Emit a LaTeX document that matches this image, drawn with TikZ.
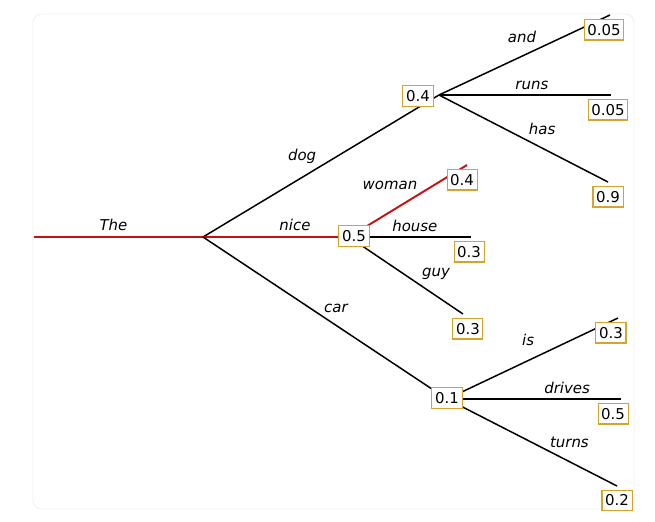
\documentclass[tikz,border=0pt]{standalone}
\usepackage{fontspec}
\setmainfont{DejaVu Sans}
\usetikzlibrary{positioning}

\definecolor{boxgold}{RGB}{214,164,44}
\definecolor{pathred}{RGB}{196,18,18}

\tikzset{
  prob/.style={draw=boxgold, line width=0.6pt, fill=white, text=black, inner xsep=1.8pt, inner ysep=2.6pt, font=\fontsize{8.5}{10}\selectfont},
  word/.style={font=\fontsize{8.5}{10}\selectfont\itshape, text=black, inner sep=2.8pt},
  lbl/.style={word, above},
  lbls/.style={word, above=4.5pt},
  branch/.style={line width=0.85pt, black},
  best/.style={line width=1.1pt, pathred}
}

\begin{document}
\begin{tikzpicture}[x=0.02cm, y=-0.02cm]
\useasboundingbox (0,0) rectangle (655,521);
\draw[gray!12, line width=0.5pt, rounded corners=5] (33,14) rectangle (634,509);

% branch points and word ends
\coordinate (start) at (34,237);
\coordinate (A) at (203,237);
\coordinate (B) at (439,95);
\coordinate (C) at (349,237);
\coordinate (D) at (447,399);
\coordinate (and) at (610,15);
\coordinate (runs) at (611,95);
\coordinate (has) at (608,182);
\coordinate (woman) at (467,165);
\coordinate (house) at (471,237);
\coordinate (guy) at (463,314);
\coordinate (is) at (618,318);
\coordinate (drives) at (621,399);
\coordinate (turns) at (617,486);

% edges
\draw[best] (start) -- node[lbl, pos=0.47] {The} (A);
\draw[branch] (A) -- node[lbls, pos=0.42] {dog} (B);
\draw[best] (A) -- node[lbl, pos=0.63] {nice} (C);
\draw[branch] (A) -- node[lbls, pos=0.545, above=4pt] {car} (D);
\draw[branch] (B) -- node[lbls, pos=0.485] {and} (and);
\draw[branch] (B) -- node[lbl, pos=0.54] {runs} (runs);
\draw[branch] (B) -- node[lbls, pos=0.61] {has} (has);
\draw[best] (C) -- node[word, pos=0.347, above=9.5pt] {woman} (woman);
\draw[branch] (C) -- node[lbl, pos=0.54] {house} (house);
\draw[branch] (C) -- node[word, pos=0.763, above=6pt] {guy} (guy);
\draw[branch] (D) -- node[lbls, pos=0.474, above=5pt] {is} (is);
\draw[branch] (D) -- node[lbl, pos=0.69] {drives} (drives);
\draw[branch] (D) -- node[lbls, pos=0.72] {turns} (turns);

% probabilities
\node[prob] (pB) at (418,96) {0.4};
\node[prob] (pC) at (354,236) {0.5};
\node[prob] (pD) at (447,398) {0.1};
\node[prob, below=2.3pt of and, xshift=-3.4pt] (pand) {0.05};
\node[prob, below=2.3pt of runs, xshift=-1.7pt] (pruns) {0.05};
\node[prob, below=2.3pt of has] (phas) {0.9};
\node[prob, below=2.3pt of woman, xshift=-2.8pt] (pwoman) {0.4};
\node[prob, below=2.3pt of house, xshift=-1.1pt] (phouse) {0.3};
\node[prob, below=2.3pt of guy, xshift=2.8pt] (pguy) {0.3};
\node[prob, below=2.3pt of is, xshift=-4pt] (pis) {0.3};
\node[prob, below=2.3pt of drives, xshift=-4.5pt] (pdrives) {0.5};
\node[prob, below=2pt of turns] (pturns) {0.2};
\end{tikzpicture}
\end{document}
